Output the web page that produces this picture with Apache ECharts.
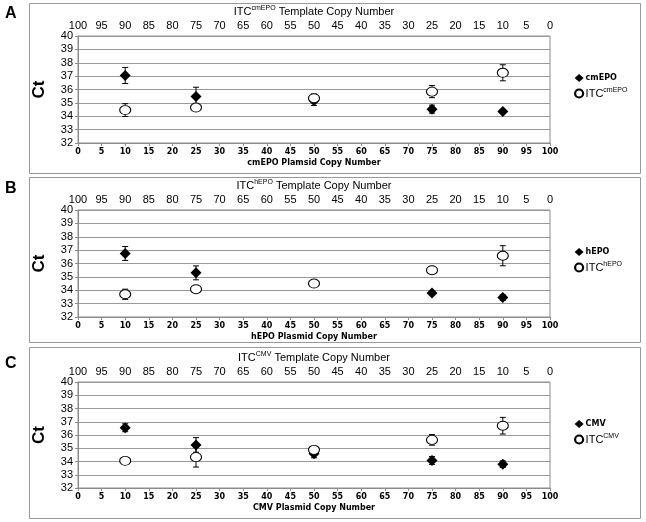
<!DOCTYPE html>
<html><head><meta charset="utf-8">
<script src="https://cdn.jsdelivr.net/npm/echarts@6/dist/echarts.min.js"></script>
<style>html,body{margin:0;padding:0;background:#fff}#c{width:646px;height:522px}</style>
</head><body><div id="c"></div>
<script>
// ---- data ----
const xPos = [10, 25, 50, 75, 90];
const topTicks = [100,95,90,85,80,75,70,65,60,55,50,45,40,35,30,25,20,15,10,5,0];
const panelLetters = ['A', 'B', 'C'];
const targets = ['cmEPO', 'hEPO', 'CMV'];
const bottomTitles = ['cmEPO Plamsid Copy Number', 'hEPO Plasmid Copy Number', 'CMV Plasmid Copy Number'];
// panel A
const cmEPO = [37.05, 35.47, 35.15, 34.53, 34.36];
const cmEPOErr = [0.6, 0.7, 0.35, 0.3, 0.15];
const itcA = [34.46, 34.65, 35.35, 35.84, 37.25];
const itcAErr = [0.48, 0.15, 0.3, 0.45, 0.6];
// panel B
const hEPO = [36.75, 35.3, null, 33.8, 33.45];
const hEPOErr = [0.52, 0.52, null, 0.1, 0.2];
const itcB = [33.7, 34.08, 34.5, 35.5, 36.58];
const itcBErr = [0.38, 0.2, 0.1, 0.1, 0.75];
// panel C
const CMV = [36.55, 35.25, 34.58, 34.08, 33.8];
const CMVErr = [0.3, 0.55, 0.3, 0.3, 0.25];
const itcC = [34.05, 34.33, 34.88, 35.63, 36.7];
const itcCErr = [0.25, 0.75, 0.15, 0.4, 0.63];

const panels = [
  {tgt: cmEPO, tgtErr: cmEPOErr, itc: itcA, itcErr: itcAErr},
  {tgt: hEPO, tgtErr: hEPOErr, itc: itcB, itcErr: itcBErr},
  {tgt: CMV, tgtErr: CMVErr, itc: itcC, itcErr: itcCErr}
];

// ---- layout ----
const gridTops = [36, 210, 382];
const gridH = [107, 107, 106];
const boxes = [[29, 3, 611, 170], [29, 177, 611, 165], [29, 347, 611, 171]];
const letterY = [6, 181, 356];

const rich = {
  a: {fontSize: 11, fontFamily: 'Arial, Liberation Sans', color: '#000'},
  s: {fontSize: 7, fontFamily: 'Arial, Liberation Sans', color: '#000', padding: [0, 0, 6, 0]},
  b: {fontSize: 8, fontWeight: 'bold', fontFamily: 'DejaVu Sans', color: '#000'}
};

const grids = [], xAxes = [], yAxes = [], series = [], legends = [], graphics = [];

function pts(vals, errs) {
  const d = [], e = [];
  vals.forEach((v, i) => {
    if (v == null) return;
    d.push([xPos[i], v]);
    e.push([xPos[i], v - errs[i], v + errs[i]]);
  });
  return {d, e};
}

function errRender(params, api) {
  const x = api.value(0), lo = api.value(1), hi = api.value(2);
  const p1 = api.coord([x, hi]), p2 = api.coord([x, lo]);
  const w = 3;
  const st = {stroke: '#000', lineWidth: 1};
  return {type: 'group', children: [
    {type: 'line', shape: {x1: p1[0], y1: p1[1], x2: p2[0], y2: p2[1]}, style: st},
    {type: 'line', shape: {x1: p1[0] - w, y1: p1[1], x2: p1[0] + w, y2: p1[1]}, style: st},
    {type: 'line', shape: {x1: p2[0] - w, y1: p2[1], x2: p2[0] + w, y2: p2[1]}, style: st}
  ]};
}

panels.forEach((p, k) => {
  grids.push({left: 78, top: gridTops[k], width: 472, height: gridH[k], show: true,
    borderColor: '#8c8c8c', borderWidth: 1, backgroundColor: '#fff'});
  xAxes.push({type: 'value', gridIndex: k, min: 0, max: 100, interval: 5, position: 'bottom',
    axisLine: {show: true, lineStyle: {color: '#8c8c8c'}},
    axisTick: {show: true, length: 3, lineStyle: {color: '#8c8c8c'}},
    splitLine: {show: false},
    axisLabel: {fontSize: 8, fontWeight: 'bold', fontFamily: 'DejaVu Sans', color: '#000', margin: 5},
    name: bottomTitles[k], nameLocation: 'middle', nameGap: 16,
    nameTextStyle: {fontSize: 8, fontWeight: 'bold', fontFamily: 'DejaVu Sans', color: '#000'}
  });
  yAxes.push({type: 'value', gridIndex: k, min: 32, max: 40, interval: 1,
    axisLine: {show: true, lineStyle: {color: '#8c8c8c'}},
    axisTick: {show: true, length: 3, lineStyle: {color: '#8c8c8c'}},
    splitLine: {show: true, lineStyle: {color: '#9a9a9a', width: 1}},
    axisLabel: {fontSize: 11, fontFamily: 'Arial, Liberation Sans', color: '#000', margin: 5},
    name: 'Ct', nameLocation: 'middle', nameGap: 30, nameRotate: 90,
    nameTextStyle: {fontSize: 17, fontWeight: 'bold', fontFamily: 'Arial, Liberation Sans', color: '#000'}
  });
  const t = pts(p.tgt, p.tgtErr), c = pts(p.itc, p.itcErr);
  const tName = targets[k], cName = 'ITC' + targets[k];
  series.push({type: 'custom', xAxisIndex: k, yAxisIndex: k, data: t.e, renderItem: errRender,
    encode: {x: 0, y: [1, 2]}, z: 2, silent: true});
  series.push({type: 'custom', xAxisIndex: k, yAxisIndex: k, data: c.e, renderItem: errRender,
    encode: {x: 0, y: [1, 2]}, z: 2, silent: true});
  series.push({type: 'scatter', name: tName, xAxisIndex: k, yAxisIndex: k, data: t.d,
    symbol: 'diamond', symbolSize: [11, 11], itemStyle: {color: '#000', opacity: 1}, z: 3});
  series.push({type: 'scatter', name: cName, xAxisIndex: k, yAxisIndex: k, data: c.d,
    symbol: 'circle', symbolSize: [11, 9], itemStyle: {color: '#fff', borderColor: '#000', borderWidth: 1, opacity: 1}, z: 4});
  legends.push({orient: 'vertical', left: 569, top: gridTops[k] + 33, itemWidth: 9, itemHeight: 8, itemGap: 5,
    textStyle: {rich: rich, padding: [0, 0, 0, -3]},
    data: [
      {name: tName, icon: 'diamond', itemStyle: {color: '#000'}},
      {name: cName, icon: 'circle', itemStyle: {color: '#fff', borderColor: '#000', borderWidth: 2.2}}
    ],
    formatter: function (n) {
      if (n.indexOf('ITC') === 0) return '{a|ITC}{s|' + n.slice(3) + '}';
      return '{b|' + n + '}';
    },
    selectedMode: false
  });
  graphics.push({type: 'rect', shape: {x: boxes[k][0] + 0.5, y: boxes[k][1] + 0.5, width: boxes[k][2], height: boxes[k][3]},
    style: {fill: 'none', stroke: '#999', lineWidth: 1}, z: -10});
  graphics.push({type: 'text', left: 5, top: letterY[k], style: {text: panelLetters[k], font: 'bold 16px Arial, Liberation Sans', fill: '#000'}});
});

panels.forEach((p, k) => {
  xAxes.push({type: 'value', gridIndex: k, min: 0, max: 100, interval: 5, position: 'top', inverse: true,
    axisLine: {show: false}, axisTick: {show: false}, splitLine: {show: false},
    axisLabel: {fontSize: 11, fontFamily: 'Arial, Liberation Sans', color: '#000', margin: 5},
    name: '{a|ITC}{s|' + targets[k] + '}{a| Template Copy Number}', nameLocation: 'middle', nameGap: 18,
    nameTextStyle: {rich: rich}
  });
});

const chart = echarts.init(document.getElementById('c'), null, {renderer: 'canvas'});
chart.setOption({
  backgroundColor: '#fff',
  animation: false,
  grid: grids, xAxis: xAxes, yAxis: yAxes, series: series, legend: legends,
  graphic: {elements: graphics}
});
</script></body></html>
